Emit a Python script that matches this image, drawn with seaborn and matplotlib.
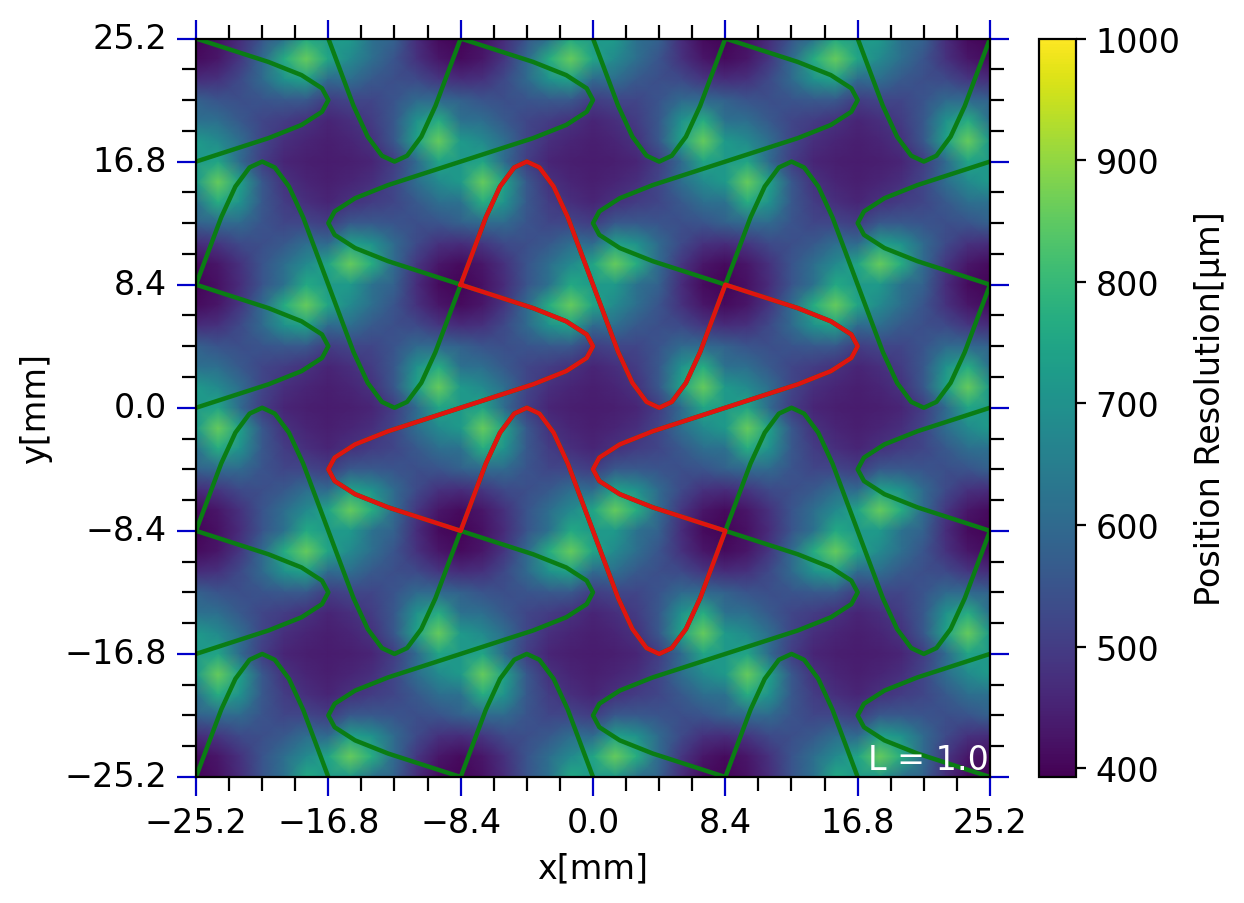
import numpy as np
import pandas as pd
import matplotlib
matplotlib.use("Agg")
import matplotlib.pyplot as plt
import seaborn as sns

# one repeat cell of the resolution map (um), 1.4 mm steps, top-left = pad corner
cell_values = [
    [400, 420, 470, 550, 620, 760, 720, 720, 620, 580, 470, 410],
    [410, 430, 490, 600, 770, 860, 750, 680, 610, 550, 480, 430],
    [470, 480, 530, 600, 700, 740, 600, 610, 560, 540, 530, 490],
    [580, 550, 540, 550, 560, 560, 500, 520, 520, 550, 600, 600],
    [620, 610, 560, 520, 500, 480, 455, 475, 500, 560, 700, 770],
    [720, 680, 610, 520, 475, 455, 445, 455, 480, 560, 740, 860],
    [720, 750, 600, 500, 455, 445, 440, 445, 455, 500, 600, 750],
    [720, 860, 740, 560, 480, 455, 445, 455, 475, 520, 610, 680],
    [620, 770, 700, 560, 500, 475, 455, 480, 500, 520, 560, 610],
    [580, 600, 600, 550, 520, 520, 500, 560, 560, 550, 540, 550],
    [470, 490, 530, 540, 560, 610, 600, 740, 700, 600, 530, 480],
    [410, 430, 480, 550, 610, 680, 750, 860, 770, 600, 490, 430],
]

# pad edge, corner to tip to next corner (mm)
arm_u = [0, 4.6, 6.7, 8.0, 8.4, 8.0, 6.7, 4.6, 0]
arm_v = [0, -1.6, -2.5, -3.4, -4.2, -5.0, -5.9, -6.8, -8.4]

corner_ticks = [-25.2, -16.8, -8.4, 0.0, 8.4, 16.8, 25.2]
minor_ticks = [-23.1, -21.0, -18.9, -14.7, -12.6, -10.5, -6.3, -4.2, -2.1,
               2.1, 4.2, 6.3, 10.5, 12.6, 14.7, 18.9, 21.0, 23.1]
cbar_ticks = [400, 500, 600, 700, 800, 900, 1000]
wave_x0 = [-25.2, -8.4, 8.4, 25.2]
wave_y0 = [25.2, 8.4, -8.4, -25.2]
step = 1.4
font_size = 12

plt.rcParams["font.size"] = font_size


def h_wave(x0, y0, n):
    # edge running downwards, first tip to the right
    xs, ys = [], []
    for k in range(n):
        sign = 1 if k % 2 == 0 else -1
        xs += [x0 + sign * u for u in arm_u]
        ys += [y0 - 8.4 * k + v for v in arm_v]
    return np.array(xs), np.array(ys)


def v_wave(x0, y0, n):
    # same edge turned by 90 degrees, running to the right
    xs, ys = [], []
    for k in range(n):
        sign = 1 if k % 2 == 0 else -1
        xs += [x0 + 8.4 * k - v for v in arm_v]
        ys += [y0 + sign * u for u in arm_u]
    return np.array(xs), np.array(ys)


def to_cell(x, y):
    return (np.asarray(x) + 25.2) / step, (25.2 - np.asarray(y)) / step


def draw_line(ax, x, y, color):
    cx, cy = to_cell(x, y)
    sns.lineplot(x=cx, y=cy, sort=False, estimator=None, color=color,
                 linewidth=1.6, ax=ax, legend=False)


grid = np.tile(np.array(cell_values, dtype=float), (3, 3))
grid = np.vstack([grid, grid[:1]])
grid = np.hstack([grid, grid[:, :1]])
df = pd.DataFrame(grid)

fig = plt.figure(figsize=(6.22, 4.52), dpi=200)
ax = fig.add_axes([196 / 1244, 1 - 778 / 904, 794 / 1244, 738.5 / 904])
cax = fig.add_axes([1039 / 1244, 1 - 778 / 904, 37 / 1244, 738.5 / 904])

sns.heatmap(df, ax=ax, cbar_ax=cax, cmap="viridis", vmin=393, vmax=1000,
            xticklabels=False, yticklabels=False, shading="gouraud",
            cbar_kws={"ticks": cbar_ticks})

for x0 in wave_x0:
    draw_line(ax, *h_wave(x0, 25.2, 6), "#0a7d14")
for y0 in wave_y0:
    draw_line(ax, *v_wave(-25.2, y0, 6), "#0a7d14")

# highlighted pad outline
top_x, top_y = v_wave(-8.4, 8.4, 2)
right_x, right_y = h_wave(8.4, 8.4, 2)
low_x, low_y = v_wave(-8.4, -8.4, 2)
left_x, left_y = h_wave(-8.4, 8.4, 2)
draw_line(ax, np.concatenate([top_x, right_x, low_x[::-1], left_x[::-1]]),
          np.concatenate([top_y, right_y, low_y[::-1], left_y[::-1]]), "#e0140f")

ax.set_xlim(0, 36)
ax.set_ylim(36, 0)
ax.set_aspect("auto")
for side in ax.spines.values():
    side.set_visible(True)
    side.set_color("black")
    side.set_linewidth(0.8)

major_x, major_y = to_cell(corner_ticks, corner_ticks)
minor_x, minor_y = to_cell(minor_ticks, minor_ticks)
ax.set_xticks(major_x)
ax.set_yticks(major_y)
ax.set_xticks(minor_x, minor=True)
ax.set_yticks(minor_y, minor=True)
labels = [f"{t:.1f}".replace("-", "\u2212") for t in corner_ticks]
ax.set_xticklabels(labels, rotation=0)
ax.set_yticklabels(labels, rotation=0, va="center")
ax.tick_params(which="major", direction="out", color="#0000c8", length=7, width=0.8,
               top=True, right=True, bottom=True, left=True, labelsize=font_size, pad=3.5)
ax.tick_params(which="minor", direction="out", color="black", length=5, width=0.8,
               top=True, right=True, bottom=True, left=True)
# lineplot hides the axis labels when tick labels were off at draw time
ax.set_xlabel("x[mm]", fontsize=font_size, labelpad=4.5, visible=True)
ax.set_ylabel("y[mm]", fontsize=font_size, labelpad=4.5, visible=True)
ax.text(0.998, 0.001, "L = 1.0", color="white", fontsize=font_size, ha="right", va="bottom",
        transform=ax.transAxes)

cbar = ax.collections[0].colorbar
cbar.outline.set_visible(True)
cbar.outline.set_linewidth(0.8)
cbar.outline.set_edgecolor("black")
cax.tick_params(length=3.5, width=0.8, labelsize=font_size, color="black")
cbar.set_label("Position Resolution[\u00b5m]", fontsize=font_size, labelpad=5)

fig.savefig("out.png", dpi=200)
